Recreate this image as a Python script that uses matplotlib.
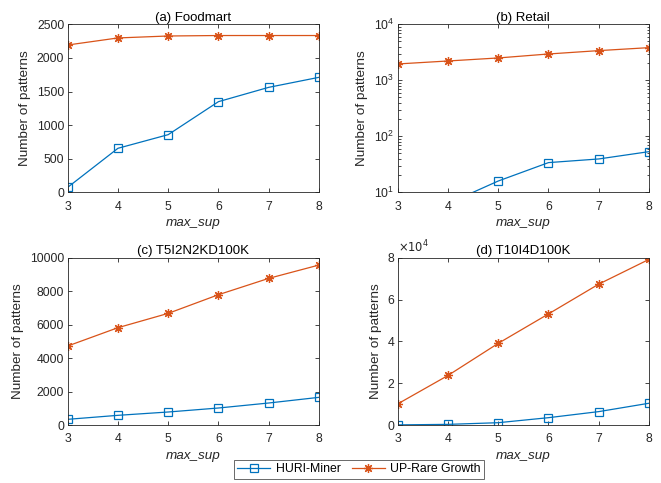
import matplotlib
matplotlib.use("Agg")
import matplotlib.pyplot as plt
from matplotlib.ticker import FuncFormatter, LogLocator, NullFormatter

plt.rcParams['font.family'] = ['Liberation Sans', 'DejaVu Sans']

x = [3, 4, 5, 6, 7, 8]

foodmart_huri = [74, 655, 858, 1349, 1562, 1711]
foodmart_up = [2192, 2297, 2326, 2333, 2333, 2333]

retail_huri = [3, 6.3, 15.9, 33.9, 39.4, 53.2]
retail_up = [1958, 2213, 2506, 2951, 3388, 3829]

t5_huri = [339, 578, 777, 1016, 1315, 1653]
t5_up = [4721, 5817, 6673, 7789, 8765, 9562]

t10_huri = [60, 300, 1100, 3500, 6400, 10400]
t10_up = [10080, 23680, 39040, 53120, 67360, 79200]

titles = ["(a) Foodmart", "(b) Retail", "(c) T5I2N2KD100K", "(d) T10I4D100K"]
labels = ["HURI-Miner", "UP-Rare Growth"]
xlabel = "max_sup"
ylabel = "Number of patterns"

blue = "#0072BD"
red = "#D95319"
txt = "#262626"
fs = 8.8

fig = plt.figure(figsize=(6.61, 4.83), dpi=100)
W, H = 661, 483

def ax_at(l, t, r, b):
    return fig.add_axes([l / W, 1 - b / H, (r - l) / W, (b - t) / H])

axes = [ax_at(67.7, 24.3, 319, 192.3),
        ax_at(397.7, 24.3, 649, 192.3),
        ax_at(67.7, 257.7, 319, 425),
        ax_at(397.7, 257.7, 649, 425)]

data = [(foodmart_huri, foodmart_up), (retail_huri, retail_up),
        (t5_huri, t5_up), (t10_huri, t10_up)]

asterisk = (8, 2, 0)
lines = []
for ax, (h, u), title in zip(axes, data, titles):
    l1, = ax.plot(x, h, color=blue, marker='s', markersize=6, markerfacecolor='none',
                  markeredgewidth=0.9, linewidth=0.9, label=labels[0])
    l2, = ax.plot(x, u, color=red, marker=asterisk, markersize=6.5,
                  markeredgewidth=0.9, linewidth=0.9, label=labels[1])
    lines = [l1, l2]
    ax.set_xlim(3, 8)
    ax.set_xticks(x)
    ax.set_title(title, fontsize=fs + 0.7, color='black', pad=2.5)
    ax.set_xlabel(xlabel, fontsize=fs + 0.9, style='italic', color=txt, labelpad=3.5)
    ax.set_ylabel(ylabel, fontsize=fs + 0.9, color=txt, labelpad=4)
    ax.tick_params(direction='in', top=True, right=True, labelsize=fs, colors=txt,
                   length=3, width=0.6, pad=2.5)
    ax.tick_params(axis='x', pad=6)
    ax.tick_params(which='minor', direction='in', top=True, right=True, length=1.8, width=0.5)
    for s in ax.spines.values():
        s.set_color(txt)
        s.set_linewidth(0.6)

axes[0].set_ylim(0, 2500)
axes[0].set_yticks([0, 500, 1000, 1500, 2000, 2500])

axes[1].set_yscale('log')
axes[1].set_ylim(10, 10000)
axes[1].yaxis.set_major_locator(LogLocator(base=10, numticks=10))
axes[1].yaxis.set_minor_locator(LogLocator(base=10, subs=range(2, 10), numticks=20))
axes[1].yaxis.set_minor_formatter(NullFormatter())
axes[1].tick_params(axis='y', which='minor', direction='in', right=True, length=1.8, width=0.5)

axes[2].set_ylim(0, 10000)
axes[2].set_yticks([0, 2000, 4000, 6000, 8000, 10000])

axes[3].set_ylim(0, 80000)
axes[3].set_yticks([0, 20000, 40000, 60000, 80000])
axes[3].yaxis.set_major_formatter(FuncFormatter(lambda v, p: f"{v/1e4:g}"))
axes[3].text(0.0, 1.012, r"$\times10^{4}$", transform=axes[3].transAxes, fontsize=fs - 0.5,
             color=txt, ha='left', va='bottom')

leg = fig.legend(lines, labels, ncol=2, loc='center', bbox_to_anchor=(359 / W, 1 - 469.5 / H),
                 fontsize=fs, frameon=True, fancybox=False, edgecolor=txt,
                 handlelength=2.7, columnspacing=0.9, borderpad=0.3, handletextpad=0.45)
leg.get_frame().set_linewidth(0.6)

fig.savefig("out.png", dpi=100)
